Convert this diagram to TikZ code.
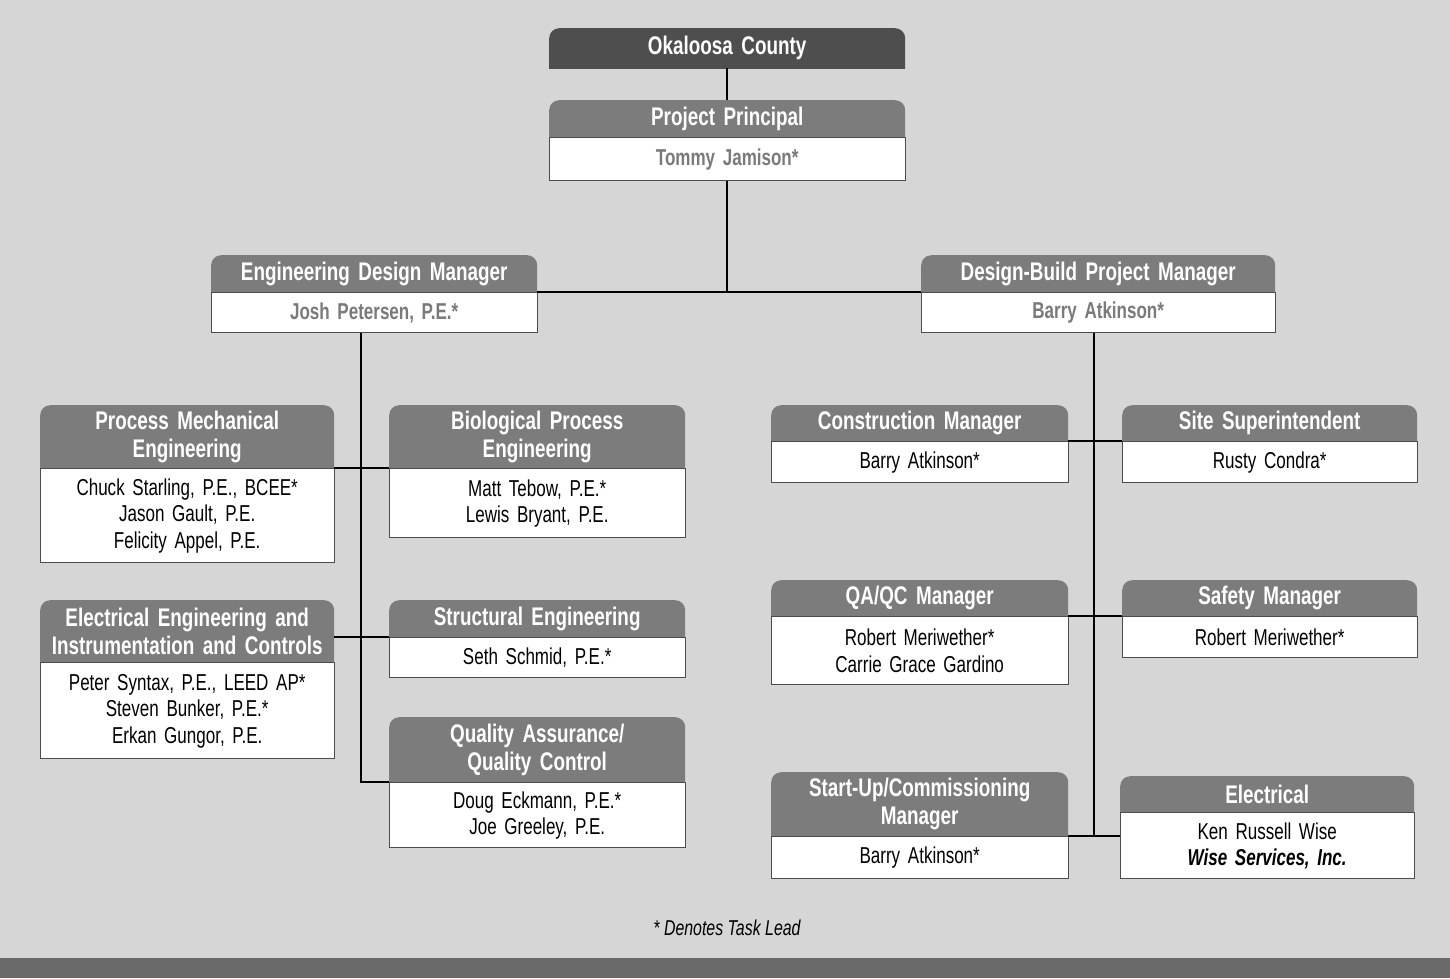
\documentclass[tikz,border=0pt]{standalone}
\usepackage{fontspec}
\setmainfont{Liberation Sans}[FakeStretch=0.74]
\definecolor{paper}{HTML}{D6D6D6}
\definecolor{tabgray}{HTML}{7C7C7C}
\definecolor{topgray}{HTML}{4E4E4E}
\definecolor{leadgray}{HTML}{7A7A7A}
\definecolor{bargray}{HTML}{6A6A6A}

\tikzset{
  tab/.style={
    anchor=north west,
    inner sep=0pt,
    align=center,
    text=white,
    font=\bfseries\fontsize{25.5}{28}\selectfont,
    path picture={
      \fill[#1, rounded corners=10pt]
        ([yshift=-12pt]path picture bounding box.south west)
        rectangle (path picture bounding box.north east);
    },
  },
  tab/.default=tabgray,
}
\tikzstyle{roster}=[
    anchor=north,
    draw=black!70,
    line width=1pt,
    fill=white,
    inner sep=0pt,
    align=center,
    font=\fontsize{23}{26.5}\selectfont,
  ]
\tikzstyle{lead}=[
    text=leadgray,
    font=\bfseries\fontsize{23}{26.5}\selectfont,
  ]
\tikzstyle{link}=[
    line width=2pt,
  ]

\begin{document}
\begin{tikzpicture}[x=1pt, y=-1pt]
  \fill[paper] (0,0) rectangle (1450,978);
  \fill[bargray] (0,958) rectangle (1450,978);

  % top of the chart
  \node[tab=topgray, text width=356pt, minimum height=40pt] (county) at (549,28) {Okaloosa County};
  \node[tab, text width=356pt, minimum height=37pt] (ppT) at (549,100) {Project Principal};
  \node[roster, lead, text width=356pt, minimum height=43pt] (ppB) at (ppT.south) {Tommy Jamison*};

  \node[tab, text width=326pt, minimum height=37pt] (edmT) at (211,255) {Engineering Design Manager};
  \node[roster, lead, text width=326pt, minimum height=40pt] (edmB) at (edmT.south) {Josh Petersen, P.E.*};
  \node[tab, text width=354pt, minimum height=37pt] (dbpmT) at (921,255) {Design-Build Project Manager};
  \node[roster, lead, text width=354pt, minimum height=40pt] (dbpmB) at (dbpmT.south) {Barry Atkinson*};

  % design side
  \node[tab, text width=294pt, minimum height=63pt] (pmeT) at (40,405) {Process Mechanical\\Engineering};
  \node[roster, text width=294pt, minimum height=94pt] (pmeB) at (pmeT.south)
    {Chuck Starling, P.E., BCEE*\\Jason Gault, P.E.\\Felicity Appel, P.E.};
  \node[tab, text width=296pt, minimum height=63pt] (bpeT) at (389,405) {Biological Process\\Engineering};
  \node[roster, text width=296pt, minimum height=69pt] (bpeB) at (bpeT.south)
    {Matt Tebow, P.E.*\\Lewis Bryant, P.E.};
  \node[tab, text width=294pt, minimum height=62pt] (eicT) at (40,600) {Electrical Engineering and\\Instrumentation and Controls};
  \node[roster, text width=294pt, minimum height=96pt] (eicB) at (eicT.south)
    {Peter Syntax, P.E., LEED AP*\\Steven Bunker, P.E.*\\Erkan Gungor, P.E.};
  \node[tab, text width=296pt, minimum height=37pt] (strT) at (389,600) {Structural Engineering};
  \node[roster, text width=296pt, minimum height=40pt] (strB) at (strT.south) {Seth Schmid, P.E.*};
  \node[tab, text width=296pt, minimum height=65pt] (qaT) at (389,717) {Quality Assurance/\\Quality Control};
  \node[roster, text width=296pt, minimum height=65pt] (qaB) at (qaT.south)
    {Doug Eckmann, P.E.*\\Joe Greeley, P.E.};

  % build side
  \node[tab, text width=297pt, minimum height=36pt] (cmT) at (771,405) {Construction Manager};
  \node[roster, text width=297pt, minimum height=41pt] (cmB) at (cmT.south) {Barry Atkinson*};
  \node[tab, text width=295pt, minimum height=36pt] (ssT) at (1122,405) {Site Superintendent};
  \node[roster, text width=295pt, minimum height=41pt] (ssB) at (ssT.south) {Rusty Condra*};
  \node[tab, text width=297pt, minimum height=36pt] (qmT) at (771,580) {QA/QC Manager};
  \node[roster, text width=297pt, minimum height=68pt] (qmB) at (qmT.south)
    {Robert Meriwether*\\Carrie Grace Gardino};
  \node[tab, text width=295pt, minimum height=36pt] (smT) at (1122,580) {Safety Manager};
  \node[roster, text width=295pt, minimum height=41pt] (smB) at (smT.south) {Robert Meriwether*};
  \node[tab, text width=297pt, minimum height=64pt] (suT) at (771,772) {Start-Up/Commissioning\\Manager};
  \node[roster, text width=297pt, minimum height=42pt] (suB) at (suT.south) {Barry Atkinson*};
  \node[tab, text width=294pt, minimum height=36pt] (elT) at (1120,776) {Electrical};
  \node[roster, text width=294pt, minimum height=66pt] (elB) at (elT.south)
    {Ken Russell Wise\\\textbf{\itshape Wise Services, Inc.}};

  \node[font=\itshape\fontsize{21.5}{24}\selectfont] (note) at (727,928) {* Denotes Task Lead};

  % connectors
  \coordinate (trunkL) at (361,0);
  \coordinate (trunkR) at (1094,0);
  \draw[link] (county.south) -- (ppT.north);
  \draw[link] (ppB.south) -- (ppB.south |- edmT.south);
  \draw[link] (edmT.south east) -- (dbpmT.south west);
  \draw[link] (trunkL |- edmB.south) -- (trunkL |- qaT.south) -- (qaT.south west);
  \draw[link] (pmeT.south east) -- (bpeT.south west);
  \draw[link] (strT.south west) -- (strT.south west -| eicT.east);
  \draw[link] (trunkR |- dbpmB.south) -- (trunkR |- suT.south);
  \draw[link] (cmT.south east) -- (ssT.south west);
  \draw[link] (qmT.south east) -- (smT.south west);
  \draw[link] (suT.south east) -- (suT.south east -| elB.west);
\end{tikzpicture}
\end{document}
